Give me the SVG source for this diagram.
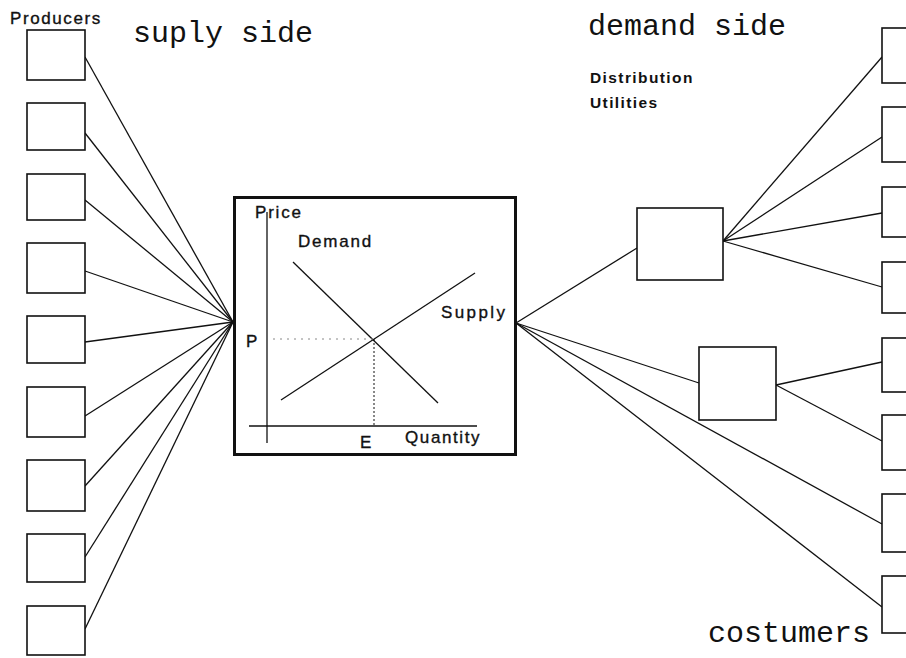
<svg xmlns="http://www.w3.org/2000/svg" width="906" height="658" viewBox="0 0 906 658">
<style>
.box{fill:#fff;stroke:#111;stroke-width:1.6}
.ln{stroke:#111;stroke-width:1.3;fill:none}
.mono{font-family:"Liberation Mono","Courier New",monospace;font-size:30px;fill:#111}
.lab{font-family:"Liberation Sans",Arial,sans-serif;font-size:17px;fill:#111;stroke:#111;stroke-width:0.35;letter-spacing:1.8px}
.bold{font-family:"Liberation Sans",Arial,sans-serif;font-size:15.5px;font-weight:bold;fill:#111;letter-spacing:1.4px}
</style>
<rect width="906" height="658" fill="#fff"/>
<text class="lab" x="10" y="24" style="letter-spacing:1.6px">Producers</text>
<text class="mono" x="133" y="42">suply side</text>
<text class="mono" x="588" y="35">demand side</text>
<text class="bold" x="590" y="83">Distribution</text>
<text class="bold" x="590" y="108">Utilities</text>
<text class="mono" x="708" y="642">costumers</text>
<g id="connectors">
<line class="ln" x1="85" y1="57" x2="233" y2="322"/>
<line class="ln" x1="85" y1="133" x2="233" y2="322"/>
<line class="ln" x1="85" y1="200" x2="233" y2="322"/>
<line class="ln" x1="85" y1="271" x2="233" y2="322"/>
<line class="ln" x1="85" y1="342" x2="233" y2="322"/>
<line class="ln" x1="85" y1="416" x2="233" y2="322"/>
<line class="ln" x1="85" y1="486" x2="233" y2="322"/>
<line class="ln" x1="85" y1="557" x2="233" y2="322"/>
<line class="ln" x1="85" y1="629" x2="233" y2="322"/>
<line class="ln" x1="516" y1="323" x2="637" y2="248"/>
<line class="ln" x1="516" y1="323" x2="699" y2="383"/>
<line class="ln" x1="516" y1="323" x2="882" y2="524"/>
<line class="ln" x1="516" y1="323" x2="882" y2="607"/>
<line class="ln" x1="723" y1="241" x2="882" y2="57"/>
<line class="ln" x1="723" y1="241" x2="882" y2="137"/>
<line class="ln" x1="723" y1="241" x2="882" y2="213"/>
<line class="ln" x1="723" y1="241" x2="882" y2="287"/>
<line class="ln" x1="776" y1="385" x2="882" y2="362"/>
<line class="ln" x1="776" y1="385" x2="882" y2="441"/>
</g>
<g id="p1"><rect class="box" x="27" y="30" width="58" height="50"/></g>
<g id="p2"><rect class="box" x="27" y="103" width="58" height="47"/></g>
<g id="p3"><rect class="box" x="27" y="174" width="58" height="46"/></g>
<g id="p4"><rect class="box" x="27" y="243" width="58" height="50"/></g>
<g id="p5"><rect class="box" x="27" y="316" width="58" height="47"/></g>
<g id="p6"><rect class="box" x="27" y="387" width="58" height="50"/></g>
<g id="p7"><rect class="box" x="27" y="460" width="58" height="51"/></g>
<g id="p8"><rect class="box" x="27" y="534" width="58" height="48"/></g>
<g id="p9"><rect class="box" x="27" y="606" width="58" height="49"/></g>
<g id="market">
<rect x="234.5" y="197.5" width="281" height="257" fill="#fff" stroke="#111" stroke-width="3"/>
<line class="ln" x1="267" y1="212" x2="267" y2="443"/>
<line class="ln" x1="249" y1="426" x2="477" y2="426"/>
<line class="ln" x1="293" y1="262" x2="438" y2="403"/>
<line class="ln" x1="281" y1="400" x2="475" y2="273"/>
<line x1="273" y1="339" x2="374" y2="339" stroke="#888" stroke-width="1" stroke-dasharray="2 5"/>
<line x1="374" y1="339" x2="374" y2="426" stroke="#111" stroke-width="1" stroke-dasharray="2 2"/>
<text class="lab" x="255" y="218">Price</text>
<text class="lab" x="298" y="247">Demand</text>
<text class="lab" x="441" y="318" style="letter-spacing:2.4px">Supply</text>
<text class="lab" x="246" y="347">P</text>
<text class="lab" x="360" y="448">E</text>
<text class="lab" x="405" y="443" style="letter-spacing:1.6px">Quantity</text>
</g>
<g id="u1"><rect class="box" x="637" y="208" width="86" height="72"/></g>
<g id="u2"><rect class="box" x="699" y="347" width="77" height="73"/></g>
<g id="c1"><rect class="box" x="882" y="28" width="40" height="55"/></g>
<g id="c2"><rect class="box" x="882" y="107" width="40" height="55"/></g>
<g id="c3"><rect class="box" x="882" y="187" width="40" height="50"/></g>
<g id="c4"><rect class="box" x="882" y="262" width="40" height="51"/></g>
<g id="c5"><rect class="box" x="882" y="338" width="40" height="54"/></g>
<g id="c6"><rect class="box" x="882" y="415" width="40" height="55"/></g>
<g id="c7"><rect class="box" x="882" y="494" width="40" height="58"/></g>
<g id="c8"><rect class="box" x="882" y="576" width="40" height="57"/></g>
</svg>
